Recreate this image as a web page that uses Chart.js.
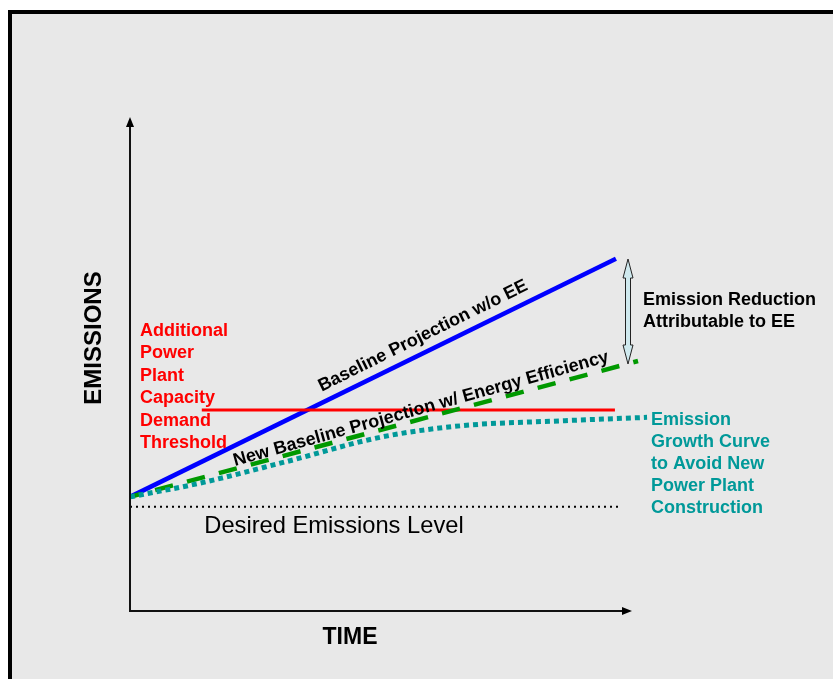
<!DOCTYPE html>
<html>
<head>
<meta charset="utf-8">
<script src="https://cdn.jsdelivr.net/npm/chart.js@4/dist/chart.umd.min.js"></script>
<style>
  body { margin: 0; background: #fff; }
  #frame {
    position: absolute; left: 8px; top: 10px; width: 840px; height: 700px;
    border-left: 4px solid #000; border-top: 4px solid #000;
    background: #e8e8e8;
  }
  #wrap { position: absolute; left: 0; top: 0; width: 833px; height: 679px; }
</style>
</head>
<body>
<div id="frame"></div>
<div id="wrap"><canvas id="chart" width="833" height="679"></canvas></div>
<script>
// time runs 0..100 along the x axis, emissions 0..100 up the y axis
const baselineTime = [0, 96.8]
const baselineNoEE = [23.1, 71.3]

const newBaselineTime = [0, 101.2]
const newBaselineEE = [23.1, 50.6]

const growthTime = [0, 14, 31, 50, 66, 86, 103]
const growthCurve = [23.1, 25.9, 30.2, 35.2, 37.5, 38.5, 39.2]

const thresholdTime = [14.3, 96.6]
const thresholdLevel = [40.7, 40.7]

const desiredTime = [0, 98]
const desiredLevel = [21.1, 21.1]

const pts = (xs, ys) => xs.map((x, i) => ({ x: x, y: ys[i] }))

const FONT = '"Liberation Sans", Arial, sans-serif'

const drawing = {
    id: 'drawing',
    afterDatasetsDraw(c) {
        const ctx = c.ctx
        const a = c.chartArea
        ctx.save()

        // axes with arrow heads
        ctx.strokeStyle = '#111'
        ctx.fillStyle = '#000'
        ctx.lineWidth = 2
        ctx.beginPath()
        ctx.moveTo(a.left, a.top + 6)
        ctx.lineTo(a.left, a.bottom)
        ctx.lineTo(a.right - 6, a.bottom)
        ctx.stroke()
        ctx.beginPath()
        ctx.moveTo(a.left, a.top)
        ctx.lineTo(a.left - 4, a.top + 10)
        ctx.lineTo(a.left + 4, a.top + 10)
        ctx.closePath()
        ctx.fill()
        ctx.beginPath()
        ctx.moveTo(a.right, a.bottom)
        ctx.lineTo(a.right - 10, a.bottom - 4)
        ctx.lineTo(a.right - 10, a.bottom + 4)
        ctx.closePath()
        ctx.fill()

        // double arrow for the reduction
        const ax = 628, top = 259, bot = 364
        ctx.beginPath()
        ctx.moveTo(ax, top)
        ctx.lineTo(ax + 5, top + 19)
        ctx.lineTo(ax + 2.5, top + 19)
        ctx.lineTo(ax + 2.5, bot - 19)
        ctx.lineTo(ax + 5, bot - 19)
        ctx.lineTo(ax, bot)
        ctx.lineTo(ax - 5, bot - 19)
        ctx.lineTo(ax - 2.5, bot - 19)
        ctx.lineTo(ax - 2.5, top + 19)
        ctx.lineTo(ax - 5, top + 19)
        ctx.closePath()
        ctx.fillStyle = '#cfe9ee'
        ctx.fill()
        ctx.lineWidth = 1
        ctx.strokeStyle = '#222'
        ctx.stroke()

        ctx.textBaseline = 'middle'

        // axis titles
        ctx.fillStyle = '#000'
        ctx.font = 'bold 23px ' + FONT
        ctx.textAlign = 'center'
        ctx.fillText('TIME', 350, 638)
        ctx.save()
        ctx.translate(94, 338)
        ctx.rotate(-Math.PI / 2)
        ctx.font = 'bold 24px ' + FONT
        ctx.fillText('EMISSIONS', 0, 0)
        ctx.restore()

        ctx.font = '23.7px ' + FONT
        ctx.fillText('Desired Emissions Level', 334, 526)

        // labels along the projections
        ctx.font = 'bold 18px ' + FONT
        ctx.save()
        ctx.translate(423, 336)
        ctx.rotate(-26.3 * Math.PI / 180)
        ctx.fillText('Baseline Projection w/o EE', 0, 0)
        ctx.restore()
        ctx.save()
        ctx.translate(421, 409)
        ctx.rotate(-15.6 * Math.PI / 180)
        ctx.fillText('New Baseline Projection w/ Energy Efficiency', 0, 0)
        ctx.restore()

        ctx.textAlign = 'left'
        ctx.fillText('Emission Reduction', 643, 300)
        ctx.fillText('Attributable to EE', 643, 322)

        ctx.fillStyle = '#ff0000'
        const red = ['Additional', 'Power', 'Plant', 'Capacity', 'Demand', 'Threshold']
        red.forEach((t, i) => ctx.fillText(t, 140, 331 + i * 22.4))

        ctx.fillStyle = '#009999'
        const teal = ['Emission', 'Growth Curve', 'to Avoid New', 'Power Plant', 'Construction']
        teal.forEach((t, i) => ctx.fillText(t, 651, 420 + i * 22))

        ctx.restore()
    }
}

new Chart(document.getElementById('chart'), {
    type: 'line',
    data: {
        datasets: [
            {
                label: 'Emission Growth Curve',
                data: pts(growthTime, growthCurve),
                borderColor: '#009999',
                borderWidth: 5,
                borderDash: [5, 4],
                cubicInterpolationMode: 'monotone'
            },
            {
                label: 'New Baseline Projection w/ Energy Efficiency',
                data: pts(newBaselineTime, newBaselineEE),
                borderColor: '#009900',
                borderWidth: 4.5,
                borderDash: [18.5, 14.5],
                borderDashOffset: 7
            },
            {
                label: 'Additional Power Plant Capacity Demand Threshold',
                data: pts(thresholdTime, thresholdLevel),
                borderColor: '#ff0000',
                borderWidth: 3
            },
            {
                label: 'Baseline Projection w/o EE',
                data: pts(baselineTime, baselineNoEE),
                borderColor: '#0000ff',
                borderWidth: 4.5
            },
            {
                label: 'Desired Emissions Level',
                data: pts(desiredTime, desiredLevel),
                borderColor: '#000',
                borderWidth: 2,
                borderDash: [2, 4]
            }
        ]
    },
    options: {
        responsive: false,
        animation: false,
        layout: { padding: { left: 130, right: 201, top: 117, bottom: 68 } },
        datasets: { line: { clip: false } },
        elements: { point: { radius: 0 }, line: { borderCapStyle: 'butt', fill: false } },
        scales: {
            x: { type: 'linear', min: 0, max: 100, display: false },
            y: { type: 'linear', min: 0, max: 100, display: false }
        },
        plugins: { legend: { display: false }, tooltip: { enabled: false } }
    },
    plugins: [drawing]
})
</script>
</body>
</html>
